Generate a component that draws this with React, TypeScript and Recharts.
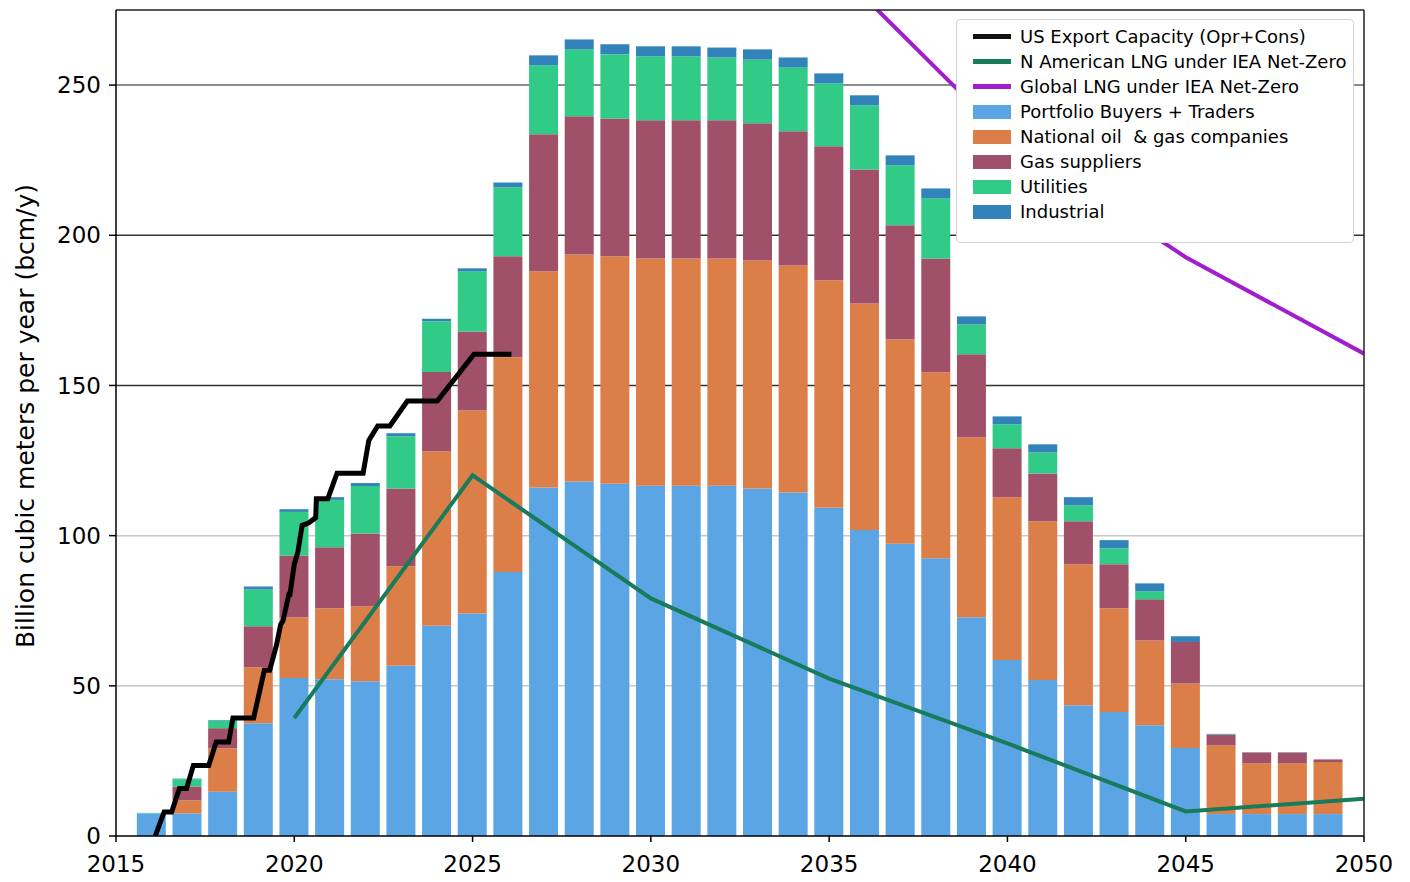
import React from "react";
import {
  Bar,
  CartesianGrid,
  ComposedChart,
  Label,
  Line,
  ReferenceLine,
  XAxis,
  YAxis,
} from "recharts";

// bar years and stacked segments (bcm/y)
const years = [
  2016, 2017, 2018, 2019, 2020, 2021, 2022, 2023, 2024, 2025, 2026, 2027,
  2028, 2029, 2030, 2031, 2032, 2033, 2034, 2035, 2036, 2037, 2038, 2039,
  2040, 2041, 2042, 2043, 2044, 2045, 2046, 2047, 2048, 2049,
];
const portfolioBuyers = [
  7.5, 7.5, 14.7, 37.5, 52.6, 52.2, 51.5, 56.7, 70.0, 74.1, 87.9, 116.0,
  118.0, 117.3, 116.6, 116.6, 116.6, 115.7, 114.4, 109.3, 101.9, 97.3, 92.5,
  72.8, 58.6, 51.9, 43.5, 41.3, 36.9, 29.3, 7.3, 7.3, 7.3, 7.3,
];
const nationalOil = [
  0, 4.4, 14.5, 18.7, 20.2, 23.6, 25.0, 33.1, 58.1, 67.6, 71.5, 72.0, 75.6,
  75.7, 75.7, 75.7, 75.7, 75.9, 75.5, 75.7, 75.4, 68.1, 61.9, 59.9, 54.2,
  52.9, 47.0, 34.5, 28.2, 21.5, 22.9, 16.9, 16.9, 17.3,
];
const gasSuppliers = [
  0, 4.6, 6.7, 13.6, 20.6, 20.3, 24.2, 25.9, 26.4, 26.3, 33.6, 45.6, 46.0,
  45.9, 46.0, 46.0, 46.0, 45.7, 44.7, 44.6, 44.6, 37.9, 37.9, 27.7, 16.3,
  15.9, 14.3, 14.7, 13.7, 13.8, 3.5, 3.6, 3.6, 0.9,
];
const utilities = [
  0.2, 2.4, 2.5, 12.3, 14.5, 15.8, 15.8, 17.4, 16.9, 20.0, 23.0, 23.0, 22.3,
  21.4, 21.3, 21.3, 20.9, 21.2, 21.3, 21.0, 21.4, 20.0, 20.0, 9.9, 8.0, 7.0,
  5.3, 5.3, 2.7, 0, 0.1, 0, 0, 0,
];
const industrial = [
  0, 0.2, 0.2, 1.0, 0.9, 0.9, 1.0, 1.0, 0.8, 1.0, 1.6, 3.3, 3.3, 3.3, 3.3,
  3.3, 3.3, 3.4, 3.3, 3.3, 3.3, 3.3, 3.3, 2.7, 2.6, 2.7, 2.7, 2.7, 2.6, 1.9,
  0.2, 0.1, 0.1, 0,
];

// US export capacity (operating + under construction)
const capacityYears = [
  2016.1, 2016.35, 2016.56, 2016.78, 2016.98, 2017.17, 2017.6, 2017.81,
  2018.16, 2018.28, 2018.86, 2019.16, 2019.31, 2019.5, 2019.62, 2019.68,
  2019.85, 2019.88, 2020.0, 2020.1, 2020.22, 2020.4, 2020.6, 2020.62,
  2020.94, 2021.2, 2021.93, 2022.09, 2022.34, 2022.68, 2023.17, 2024.01,
  2025.04, 2026.09,
];
const capacityValues = [
  0, 8.0, 8.0, 15.8, 15.8, 23.5, 23.5, 31.3, 31.3, 39.3, 39.3, 55.2, 55.2,
  63.5, 70.5, 71.5, 80.5, 80.5, 90.5, 94.5, 103.4, 104.2, 106.0, 112.3, 112.3,
  120.8, 120.8, 131.7, 136.5, 136.5, 144.8, 144.8, 160.4, 160.4,
];

const naLngYears = [2020, 2025, 2030, 2035, 2040, 2045, 2050];
const naLngValues = [39.3, 120.1, 79.1, 52.4, 30.8, 8.2, 12.4];

const globalLngYears = [2035, 2040, 2045, 2050];
const globalLngValues = [291, 232, 192.7, 160.6];

const xTicks = [2015, 2020, 2025, 2030, 2035, 2040, 2045, 2050];
const yTicks = [0, 50, 100, 150, 200, 250];

const FONT = "'DejaVu Sans', sans-serif";

const barData = years.map((year, i) => ({
  year,
  portfolio: portfolioBuyers[i],
  national: nationalOil[i],
  gas: gasSuppliers[i],
  utilities: utilities[i],
  industrial: industrial[i],
}));
const capacityData = capacityYears.map((year, i) => ({
  year,
  capacity: capacityValues[i],
}));
const naLngData = naLngYears.map((year, i) => ({ year, naLng: naLngValues[i] }));
const globalLngData = globalLngYears.map((year, i) => ({
  year,
  globalLng: globalLngValues[i],
}));

const legendItems = [
  { label: "US Export Capacity (Opr+Cons)", color: "#111111", line: true },
  { label: "N American LNG under IEA Net-Zero", color: "#187b5b", line: true },
  { label: "Global LNG under IEA Net-Zero", color: "#a11ecf", line: true },
  { label: "Portfolio Buyers + Traders", color: "#5ca5e5", line: false },
  { label: "National oil  & gas companies", color: "#db7e47", line: false },
  { label: "Gas suppliers", color: "#a1506a", line: false },
  { label: "Utilities", color: "#31cb87", line: false },
  { label: "Industrial", color: "#3183b9", line: false },
];

function YTitle() {
  return (
    <text
      x={0}
      y={0}
      transform="translate(34,416) rotate(-90)"
      textAnchor="middle"
      fontSize={25}
      fontFamily={FONT}
      fill="#000"
    >
      Billion cubic meters per year (bcm/y)
    </text>
  );
}

function ChartLegend() {
  return (
    <div
      style={{
        position: "absolute",
        left: 956,
        top: 19,
        width: 398,
        height: 224,
        boxSizing: "border-box",
        border: "1.5px solid #d4d4d4",
        borderRadius: 4,
        background: "#fff",
        fontFamily: FONT,
        fontSize: 18,
        color: "#000",
      }}
    >
      {legendItems.map((item, i) => (
        <div
          key={item.label}
          style={{
            position: "absolute",
            left: 16,
            top: 4 + i * 25,
            height: 25,
            display: "flex",
            alignItems: "center",
            whiteSpace: "pre",
          }}
        >
          <div
            style={{
              width: 38,
              height: item.line ? 5 : 14,
              background: item.color,
              marginRight: 9,
            }}
          />
          <span>{item.label}</span>
        </div>
      ))}
    </div>
  );
}

export default function App() {
  const tickStyle = { fontSize: 23, fontFamily: FONT, fill: "#000" };
  return (
    <div
      style={{
        position: "absolute",
        left: 0,
        top: 0,
        width: 1410,
        height: 882,
        background: "#fff",
      }}
    >
      <ComposedChart
        width={1410}
        height={882}
        data={barData}
        margin={{ top: 10, right: 46, bottom: 0, left: 0 }}
      >
        <CartesianGrid
          vertical={false}
          horizontalValues={[50, 100]}
          stroke="#c8c8c8"
          strokeWidth={1.5}
        />
        <CartesianGrid
          vertical={false}
          horizontalValues={[150, 200]}
          stroke="#333"
          strokeWidth={1.5}
        />
        <CartesianGrid
          vertical={false}
          horizontalValues={[250]}
          stroke="#666"
          strokeWidth={1.5}
        />
        <XAxis
          dataKey="year"
          type="number"
          domain={[2015, 2050]}
          ticks={xTicks}
          interval={0}
          allowDataOverflow
          height={46}
          tickSize={6}
          tickMargin={14}
          tick={tickStyle}
          axisLine={{ stroke: "#000", strokeWidth: 1.5 }}
          tickLine={{ stroke: "#000", strokeWidth: 1.5 }}
        />
        <XAxis
          xAxisId="lines"
          dataKey="year"
          type="number"
          domain={[2015, 2050]}
          allowDataOverflow
          hide
        />
        <YAxis
          type="number"
          domain={[0, 275]}
          ticks={yTicks}
          interval={0}
          allowDataOverflow
          width={116}
          tickSize={7}
          tickMargin={8}
          tick={tickStyle}
          axisLine={{ stroke: "#000", strokeWidth: 1.5 }}
          tickLine={{ stroke: "#000", strokeWidth: 1.5 }}
        >
          <Label content={YTitle} />
        </YAxis>
        <Bar dataKey="portfolio" stackId="a" fill="#5ca5e5" barSize={29} isAnimationActive={false} />
        <Bar dataKey="national" stackId="a" fill="#db7e47" barSize={29} isAnimationActive={false} />
        <Bar dataKey="gas" stackId="a" fill="#a1506a" barSize={29} isAnimationActive={false} />
        <Bar dataKey="utilities" stackId="a" fill="#31cb87" barSize={29} isAnimationActive={false} />
        <Bar dataKey="industrial" stackId="a" fill="#3183b9" barSize={29} isAnimationActive={false} />
        <Line
          xAxisId="lines"
          data={capacityData}
          dataKey="capacity"
          type="linear"
          stroke="#000"
          strokeWidth={5}
          dot={false}
          isAnimationActive={false}
        />
        <Line
          xAxisId="lines"
          data={naLngData}
          dataKey="naLng"
          type="linear"
          stroke="#187b5b"
          strokeWidth={4}
          dot={false}
          isAnimationActive={false}
        />
        <Line
          xAxisId="lines"
          data={globalLngData}
          dataKey="globalLng"
          type="linear"
          stroke="#a11ecf"
          strokeWidth={4}
          dot={false}
          isAnimationActive={false}
        />
        <ReferenceLine y={275} stroke="#222" strokeWidth={1.5} />
        <ReferenceLine x={2050} stroke="#222" strokeWidth={1.5} />
      </ComposedChart>
      <ChartLegend />
    </div>
  );
}
